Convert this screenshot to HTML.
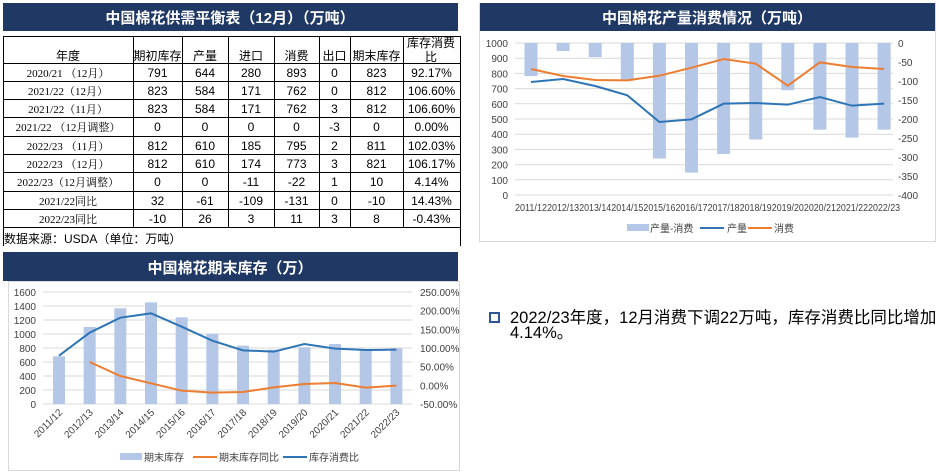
<!DOCTYPE html>
<html><head><meta charset="utf-8">
<style>
html,body{margin:0;padding:0;background:#fff;}
svg{display:block;font-family:"Liberation Sans","Noto Sans CJK SC",sans-serif;}
</style></head><body>
<svg id="s" width="938" height="474" viewBox="0 0 938 474" xmlns="http://www.w3.org/2000/svg">
<rect x="3" y="3" width="455" height="28" fill="#1f3864"/>
<text x="230" y="23" fill="#fff" font-size="15" font-weight="bold" text-anchor="middle">中国棉花供需平衡表（12月）（万吨）</text>
<g id="tbl"></g>
<rect x="479.5" y="3.5" width="456" height="238" fill="#fff" stroke="#d9d9d9"/>
<rect x="480" y="3" width="455" height="28" fill="#1f3864"/>
<text x="707" y="23" fill="#fff" font-size="15" font-weight="bold" text-anchor="middle">中国棉花产量消费情况（万吨）</text>
<g id="c1"></g>
<rect x="3" y="252" width="455" height="29" fill="#1f3864"/>
<text x="230" y="273" fill="#fff" font-size="15" font-weight="bold" text-anchor="middle">中国棉花期末库存（万）</text>
<rect x="8.5" y="281.5" width="451" height="189" fill="#fff" stroke="#d9d9d9"/>
<g id="c2"></g>
<rect x="490" y="313" width="9" height="9" fill="none" stroke="#2f5597" stroke-width="2"/>
<text x="510" y="323" font-size="16.5" fill="#000">2022/23年度，12月消费下调22万吨，库存消费比同比增加</text>
<text x="510" y="338" font-size="16.5" fill="#000">4.14%。</text>
</svg>
<script>
const NS="http://www.w3.org/2000/svg";
function el(p,t,a,txt){const e=document.createElementNS(NS,t);for(const k in a){if(a[k]!==null&&a[k]!==undefined)e.setAttribute(k,a[k]);}if(txt!==undefined)e.textContent=txt;p.appendChild(e);return e;}
const tb=document.getElementById('tbl');
const cx=[3,133,182,228,274,319,350,403,460];
const ry=[36,63,81,99,117,136,154,172,191,209,227];
const rows=[
["2020/21 （12月）","791","644","280","893","0","823","92.17%"],
["2021/22（12月）","823","584","171","762","0","812","106.60%"],
["2021/22（11月）","823","584","171","762","3","812","106.60%"],
["2021/22 （12月调整）","0","0","0","0","-3","0","0.00%"],
["2022/23 （11月）","812","610","185","795","2","811","102.03%"],
["2022/23 （12月）","812","610","174","773","3","821","106.17%"],
["2022/23（12月调整）","0","0","-11","-22","1","10","4.14%"],
["2021/22同比","32","-61","-109","-131","0","-10","14.43%"],
["2022/23同比","-10","26","3","11","3","8","-0.43%"]];
for(const y of ry) el(tb,'line',{x1:3,x2:460,y1:y+.5,y2:y+.5,stroke:'#000','stroke-width':1});
for(const x of cx) el(tb,'line',{x1:x+.5,x2:x+.5,y1:36,y2:227.5,stroke:'#000','stroke-width':1});
el(tb,'line',{x1:3.5,x2:3.5,y1:227,y2:246,stroke:'#000'});
el(tb,'line',{x1:460.5,x2:460.5,y1:227,y2:246,stroke:'#000'});
const hd=["年度","期初库存","产量","进口","消费","出口","期末库存"];
hd.forEach((h,i)=>el(tb,'text',{x:(cx[i]+cx[i+1])/2,y:60,'font-size':12,'text-anchor':'middle'},h));
el(tb,'text',{x:431,y:47,'font-size':12,'text-anchor':'middle'},"库存消费");
el(tb,'text',{x:431,y:61,'font-size':12,'text-anchor':'middle'},"比");
rows.forEach((r,j)=>{const y=ry[j+1]+14;r.forEach((v,i)=>el(tb,'text',{x:(cx[i]+cx[i+1])/2,y:y,'font-size':i==0?11:12,'text-anchor':'middle','font-family':i==0?'"Liberation Serif","Noto Serif CJK SC",serif':null},v));});
el(tb,'text',{x:4,y:243,'font-size':12},"数据来源：USDA（单位：万吨）");
const c1=document.getElementById('c1');
const yl=v=>195-v*0.152, yr=v=>43-v*0.38;
for(let v=0;v<=1000;v+=100){const y=yl(v);el(c1,'line',{x1:515,x2:893,y1:y,y2:y,stroke:'#d9d9d9'});el(c1,'text',{x:508,y:y+4,'font-size':10,'text-anchor':'end',fill:'#404040'},v);}
for(let v=0;v>=-400;v-=50){el(c1,'text',{x:898,y:yr(v)+4,'font-size':10,fill:'#404040'},v);}
const cats1=["2011/12","2012/13","2013/14","2014/15","2015/16","2016/17","2017/18","2018/19","2019/20","2020/21","2021/22","2022/23"];
const diff=[-87,-21,-37,-98,-304,-341,-292,-254,-124,-228,-249,-228];
const prod=[246,237,258,286,366,358,311,309,314,291,317,311].map(v=>v/3);
const cons=[207,228,240,241,227,203,177,191,257,187,201,207].map(v=>v/3);
const X1=i=>531+i*32.1;
diff.forEach((d,i)=>el(c1,'rect',{x:X1(i)-6.5,y:43,width:13,height:-d*0.38,fill:'#b4c7e7'}));
el(c1,'polyline',{points:prod.map((y,i)=>X1(i)+','+y).join(' '),fill:'none',stroke:'#2e75b6','stroke-width':2});
el(c1,'polyline',{points:cons.map((y,i)=>X1(i)+','+y).join(' '),fill:'none',stroke:'#ed7d31','stroke-width':2});
cats1.forEach((c,i)=>el(c1,'text',{x:X1(i),y:211,'font-size':10,'text-anchor':'middle',fill:'#404040','textLength':32,'lengthAdjust':'spacingAndGlyphs'},c));
el(c1,'rect',{x:627,y:224,width:22,height:7,fill:'#b4c7e7'});
el(c1,'text',{x:650,y:232,'font-size':10,fill:'#404040'},"产量-消费");
el(c1,'line',{x1:700,x2:724,y1:228,y2:228,stroke:'#2e75b6','stroke-width':2});
el(c1,'text',{x:727,y:232,'font-size':10,fill:'#404040'},"产量");
el(c1,'line',{x1:748,x2:772,y1:228,y2:228,stroke:'#ed7d31','stroke-width':2});
el(c1,'text',{x:774,y:232,'font-size':10,fill:'#404040'},"消费");
const c2=document.getElementById('c2');
const y2=v=>404-v*0.07, y2r=p=>292+(250-p)*0.3733;
for(let v=0;v<=1600;v+=200){const y=y2(v);el(c2,'line',{x1:43,x2:412,y1:y,y2:y,stroke:'#d9d9d9'});el(c2,'text',{x:36,y:y+4,'font-size':10,'text-anchor':'end',fill:'#404040'},v);}
for(let p=250;p>=-50;p-=50){el(c2,'text',{x:420,y:y2r(p)+4,'font-size':10,fill:'#404040'},p.toFixed(2)+'%');}
const X2=i=>59+i*30.67;
const stock=[681,1100,1367,1452,1238,1005,833,776,810,857,786,795];
stock.forEach((v,i)=>el(c2,'rect',{x:X2(i)-6,y:y2(v),width:12,height:v*0.07,fill:'#b4c7e7'}));
const bl=[317,248,203,190,230,272,301,305,282,296,300,299].map(v=>250+v/3);
const ol=[336,378,400,422,428,426,412,402,399,413,407].map(v=>250+v/3);
el(c2,'polyline',{points:ol.map((y,i)=>X2(i+1)+','+y).join(' '),fill:'none',stroke:'#ed7d31','stroke-width':2});
el(c2,'polyline',{points:bl.map((y,i)=>X2(i)+','+y).join(' '),fill:'none',stroke:'#2e75b6','stroke-width':2});
cats1.forEach((c,i)=>el(c2,'text',{x:X2(i)+4,y:413,'font-size':10,'text-anchor':'end',fill:'#404040',transform:`rotate(-45 ${X2(i)+4} 413)`},c));
el(c2,'rect',{x:120,y:453,width:22,height:7,fill:'#b4c7e7'});
el(c2,'text',{x:144,y:461,'font-size':10,fill:'#404040'},"期末库存");
el(c2,'line',{x1:193,x2:217,y1:457,y2:457,stroke:'#ed7d31','stroke-width':2});
el(c2,'text',{x:219,y:461,'font-size':10,fill:'#404040'},"期末库存同比");
el(c2,'line',{x1:283,x2:307,y1:457,y2:457,stroke:'#2e75b6','stroke-width':2});
el(c2,'text',{x:309,y:461,'font-size':10,fill:'#404040'},"库存消费比");
</script>
</body></html>
